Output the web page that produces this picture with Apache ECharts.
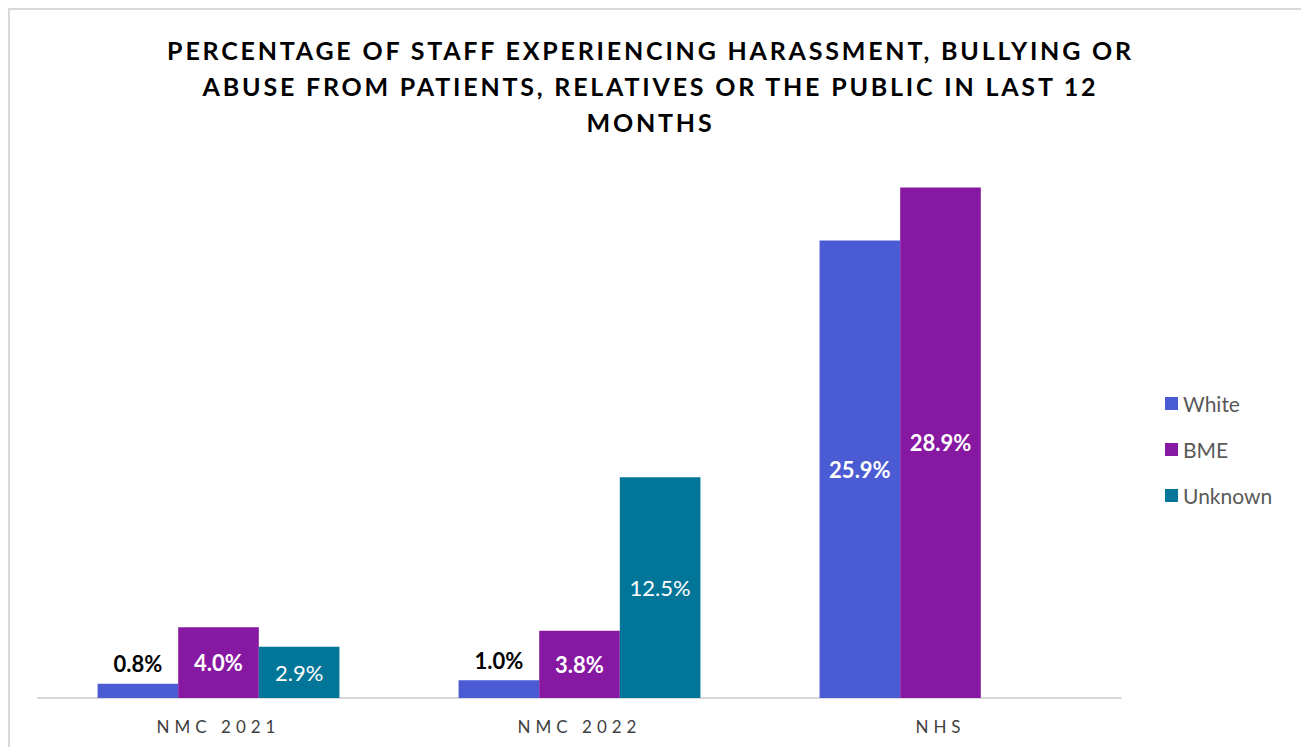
<!DOCTYPE html>
<html>
<head>
<meta charset="utf-8">
<script src="https://cdn.jsdelivr.net/npm/echarts@6/dist/echarts.min.js"></script>
<style>
  html, body { margin: 0; padding: 0; background: #fff; }
  #frame { position: absolute; left: 8px; top: 8px; width: 1300px; height: 760px; border: 2px solid #d9d9d9; box-sizing: border-box; }
  #chart { position: absolute; left: 0; top: 0; width: 1301px; height: 747px; }
  /* letter spacing for title and category labels (svg text) */
  #chart text[style*="25px"] { letter-spacing: 2.8px; }
  #chart text[style*="17px"] { letter-spacing: 5px; }
</style>
</head>
<body>
<div id="frame"></div>
<div id="chart"></div>
<script>
const titleText = 'PERCENTAGE OF STAFF EXPERIENCING HARASSMENT, BULLYING OR\nABUSE FROM PATIENTS, RELATIVES OR THE PUBLIC IN LAST 12\nMONTHS';
const categories = ['NMC 2021', 'NMC 2022', 'NHS'];
const whiteValues = [0.8, 1.0, 25.9];
const bmeValues = [4.0, 3.8, 28.9];
const unknownValues = [2.9, 12.5, null];

const colors = { White: '#4a5bd4', BME: '#8718a1', Unknown: '#017699' };

const makeData = (values, boldInside) =>
  values.map((v) => {
    if (v == null) return v;
    if (v < 2) {
      return {
        value: v,
        label: { position: 'top', distance: 9, color: '#000', fontWeight: 'bold' },
      };
    }
    return {
      value: v,
      label: { position: 'inside', color: '#fff', fontWeight: boldInside ? 'bold' : 'normal' },
    };
  });

const makeSeries = (name, values, boldInside) => ({
  name,
  type: 'bar',
  data: makeData(values, boldInside),
  itemStyle: { color: colors[name] },
  barGap: '0%',
  barCategoryGap: '33%',
  label: {
    show: true,
    fontFamily: 'Lato',
    fontSize: 22,
    formatter: (p) => p.value.toFixed(1) + '%',
  },
});

const drawChart = (domElement) => {
  const chart = echarts.init(domElement, null, { renderer: 'svg' });
  const option = {
    animation: false,
    title: {
      text: titleText,
      left: 'center',
      top: 27,
      textStyle: { fontFamily: 'Lato', fontSize: 25, fontWeight: 'bold', color: '#000', lineHeight: 36 },
    },
    legend: {
      orient: 'vertical',
      left: 1160,
      top: 388,
      itemWidth: 13,
      itemHeight: 13,
      itemGap: 25,
      icon: 'rect',
      textStyle: { fontFamily: 'Lato', fontSize: 21, color: '#595959' },
      data: ['White', 'BME', 'Unknown'],
    },
    grid: { left: 38, right: 180, top: 168, bottom: 49, containLabel: false },
    xAxis: {
      type: 'category',
      data: categories,
      axisLine: { lineStyle: { color: '#d9d9d9', width: 2 } },
      axisTick: { show: false },
      axisLabel: { fontFamily: 'Lato', fontSize: 17, color: '#404040', margin: 20 },
    },
    yAxis: {
      type: 'value',
      min: 0,
      max: 30,
      show: false,
      splitLine: { show: false },
    },
    series: [
      makeSeries('White', whiteValues, true),
      makeSeries('BME', bmeValues, true),
      makeSeries('Unknown', unknownValues, false),
    ],
  };
  chart.setOption(option);
};

drawChart(document.querySelector('#chart'));
</script>
</body>
</html>
